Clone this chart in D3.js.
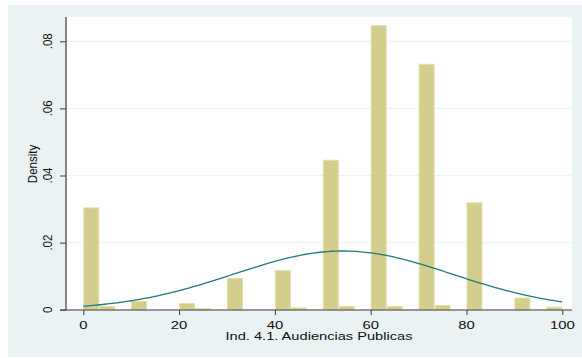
<!DOCTYPE html>
<html>
<head>
<meta charset="utf-8">
<script src="https://cdn.jsdelivr.net/npm/d3@7"></script>
<style>
  html, body { margin: 0; padding: 0; background: #ffffff; }
  svg { display: block; }
  text { font-family: "Liberation Sans", Arial, sans-serif; fill: #111; }
</style>
</head>
<body>
<svg id="chart" width="582" height="358"></svg>
<script>
// Histogram of Ind. 4.1 (30 bins over 0..100) with normal density overlay
const binStart = 0;
const binWidth = 100 / 30;
const binDensity = [
  0.0305, 0.0011, 0.0000, 0.0026, 0.0000, 0.0000, 0.0020, 0.0005, 0.0000, 0.0095,
  0.0000, 0.0000, 0.0118, 0.0007, 0.0000, 0.0447, 0.0011, 0.0000, 0.0848, 0.0011,
  0.0000, 0.0733, 0.0014, 0.0000, 0.0320, 0.0000, 0.0000, 0.0036, 0.0000, 0.0009
];
const normalMean = 54.2;
const normalSd = 22.8;
const xTicks = [0, 20, 40, 60, 80, 100];
const yTicks = [0, 0.02, 0.04, 0.06, 0.08];
const yTickLabels = ["0", ".02", ".04", ".06", ".08"];
const xTitle = "Ind. 4.1. Audiencias Publicas";
const yTitle = "Density";

const svg = d3.select("#chart");

// outer graph region and inner plot region
svg.append("rect").attr("x", 8).attr("y", 5).attr("width", 574).attr("height", 352)
  .attr("fill", "#eaf2f3");
const plot = { left: 66, right: 572, top: 17, bottom: 310 };
svg.append("rect").attr("x", plot.left).attr("y", plot.top)
  .attr("width", plot.right - plot.left).attr("height", plot.bottom - plot.top)
  .attr("fill", "#ffffff");

const x = d3.scaleLinear().domain([0, 100]).range([83.3, 562.3]);
const y = d3.scaleLinear().domain([0, 0.08]).range([309.7, 41.3]);

// horizontal grid lines
svg.append("g").selectAll("line").data(yTicks.filter(d => d > 0)).join("line")
  .attr("x1", plot.left).attr("x2", plot.right)
  .attr("y1", d => y(d)).attr("y2", d => y(d))
  .attr("stroke", "#eaf2f3").attr("stroke-width", 1);

// histogram bars
const bins = binDensity.map((v, i) => ({ x0: binStart + i * binWidth, x1: binStart + (i + 1) * binWidth, v }));
svg.append("g").selectAll("rect").data(bins.filter(b => b.v > 0)).join("rect")
  .attr("x", b => x(b.x0) + 0.5)
  .attr("width", b => x(b.x1) - x(b.x0) - 1)
  .attr("y", b => y(b.v) + 0.5)
  .attr("height", b => y(0) - y(b.v) - 0.5)
  .attr("fill", "#d3cd8e")
  .attr("stroke", "#e4dfa9")
  .attr("stroke-width", 1);

// normal density curve
const pts = d3.range(0, 100.001, 0.5).map(v => [v,
  Math.exp(-0.5 * Math.pow((v - normalMean) / normalSd, 2)) / (normalSd * Math.sqrt(2 * Math.PI))]);
svg.append("path").datum(pts)
  .attr("d", d3.line().x(d => x(d[0])).y(d => y(d[1])))
  .attr("fill", "none").attr("stroke", "#1f7a7b").attr("stroke-width", 1.3);

// y axis
const yAxis = svg.append("g").attr("transform", `translate(${plot.left},0)`)
  .call(d3.axisLeft(y).tickValues(yTicks).tickSize(6).tickFormat(""));
yAxis.select(".domain").remove();
yAxis.selectAll(".tick line").attr("stroke", "#3a3a3a");
svg.append("line").attr("x1", plot.left).attr("x2", plot.left)
  .attr("y1", plot.top).attr("y2", plot.bottom).attr("stroke", "#3a3a3a").attr("stroke-width", 1.2);
svg.append("g").selectAll("text").data(yTicks).join("text")
  .attr("transform", (d) => `translate(52,${y(d)}) scale(1.15,1) rotate(-90)`)
  .attr("text-anchor", "middle")
  .attr("font-size", 11.5)
  .text((d, i) => yTickLabels[i]);
svg.append("text")
  .attr("transform", `translate(37,164) scale(1.15,1) rotate(-90)`)
  .attr("text-anchor", "middle").attr("font-size", 11.5).text(yTitle);

// x axis
const xAxis = svg.append("g").attr("transform", `translate(0,${plot.bottom})`)
  .call(d3.axisBottom(x).tickValues(xTicks).tickSize(5).tickFormat(""));
xAxis.select(".domain").remove();
xAxis.selectAll(".tick line").attr("stroke", "#3a3a3a");
svg.append("line").attr("x1", plot.left - 6).attr("x2", plot.right)
  .attr("y1", plot.bottom).attr("y2", plot.bottom).attr("stroke", "#3a3a3a").attr("stroke-width", 1.2);
svg.append("g").selectAll("text").data(xTicks).join("text")
  .attr("transform", d => `translate(${x(d)},328.5) scale(1.35,1)`)
  .attr("text-anchor", "middle").attr("font-size", 11).text(d => d);
svg.append("text")
  .attr("transform", `translate(319,340) scale(1.33,1)`)
  .attr("text-anchor", "middle").attr("font-size", 11).text(xTitle);
</script>
</body>
</html>
